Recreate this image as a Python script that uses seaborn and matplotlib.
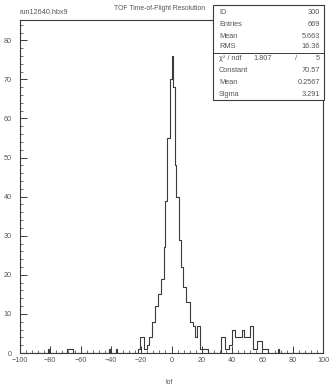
import numpy as np
import pandas as pd
import matplotlib
matplotlib.use("Agg")
import matplotlib.pyplot as plt
from matplotlib.patches import Rectangle
from matplotlib.lines import Line2D
from matplotlib.ticker import MultipleLocator
import seaborn as sns

# ---- data (variable-width bins) ----
bin_edges = [-100, -81.3, -80.7, -68.7, -65.3, -41.3, -40.7, -36.7, -36, -22,
             -20.7, -18, -16, -14.7, -12.7, -10.7, -8.7, -6.7, -4.7, -4,
             -2.7, -1.3, 0, 0.7, 2, 3.3, 4.7, 6, 7.3, 9.3,
             12, 14, 15.3, 16.7, 18.7, 20, 24, 33, 35.3, 38,
             40, 42, 46.7, 48, 52, 54, 56.4, 59.8, 64, 70,
             70.7, 100]
bin_counts = [0, 1, 0, 1, 0, 1, 0, 1, 0, 1,
              4, 1, 2, 4, 8, 12, 15, 19, 27, 39,
              55, 70, 76, 68, 48, 40, 29, 22, 17, 13,
              8, 7, 4, 7, 1, 1, 0, 4, 1, 2,
              6, 4, 6, 4, 7, 1, 3, 1, 0, 1,
              0]

stats_labels = ["ID", "Entries", "Mean", "RMS"]
stats_values = ["300", "669", "5.663", "16.36"]
fit_labels = ["Constant", "Mean", "Sigma"]
fit_values = ["70.57", "0.2567", "3.291"]
chi2_value = "1.807"
ndf_value = "5"

x_ticks = [-100, -80, -60, -40, -20, 0, 20, 40, 60, 80, 100]
y_ticks = [0, 10, 20, 30, 40, 50, 60, 70, 80]

edges = [float(e) for e in bin_edges]
centers = [(a + b) / 2 for a, b in zip(edges[:-1], edges[1:])]
df = pd.DataFrame({"tof": centers, "n": bin_counts})

sns.set_style("ticks")
plt.rcParams["font.family"] = ["Liberation Sans", "DejaVu Sans"]

W, H = 329, 387
fig = plt.figure(figsize=(W / 100, H / 100), dpi=100)
ax = fig.add_axes([20 / W, 1 - 353 / H, 303 / W, 333 / H])

line_c = "#3a3a3a"
text_c = "#555555"

sns.histplot(data=df, x="tof", weights="n", bins=edges, element="step",
             fill=False, color=line_c, linewidth=0.8, ax=ax)

ax.set_xlim(-100, 100)
ax.set_ylim(0, 85.2)
ax.set_xticks(x_ticks)
ax.set_xticklabels(["\u2212100", "\u221280", "\u221260", "\u221240", "\u221220", "0",
                    "20", "40", "60", "80", "100"])
ax.set_yticks(y_ticks)
ax.xaxis.set_minor_locator(MultipleLocator(4))
ax.yaxis.set_minor_locator(MultipleLocator(2))
ax.tick_params(axis="both", which="major", direction="in", length=5, width=0.7,
               labelsize=5.2, labelcolor=text_c, color=line_c)
ax.tick_params(axis="x", which="major", pad=3)
ax.tick_params(axis="y", which="major", pad=6)
ax.tick_params(axis="both", which="minor", direction="in", length=2.5, width=0.5,
               color=line_c)
for s in ax.spines.values():
    s.set_color(line_c)
    s.set_linewidth(0.8)
ax.set_xlabel("")
ax.set_ylabel("")

# texts
fig.text(20 / W, 1 - 12 / H, "run12640.hbx9", fontsize=5.2, color=text_c,
         ha="left", va="center")
fig.text(160 / W, 1 - 9 / H, "TOF Time-of-Flight Resolution", fontsize=4.9,
         color=text_c, ha="center", va="center")
fig.text(170 / W, 1 - 382 / H, "tof", fontsize=4.8, color=text_c,
         ha="center", va="center")

# stats box
bx0, bx1, by0, by1 = 213, 324, 5, 100
fig.patches.append(Rectangle((bx0 / W, 1 - by1 / H), (bx1 - bx0) / W, (by1 - by0) / H,
                             transform=fig.transFigure, facecolor="white",
                             edgecolor=line_c, linewidth=0.8, zorder=5))
fig.lines.append(Line2D([bx0 / W, bx1 / W], [1 - 53 / H, 1 - 53 / H],
                        transform=fig.transFigure, color=line_c, linewidth=0.7, zorder=6))
rows_y = [12, 24, 36, 47]
for lab, val, yy in zip(stats_labels, stats_values, rows_y):
    fig.text(219 / W, 1 - yy / H, lab, fontsize=5.3, color=text_c, ha="left",
             va="center", zorder=7)
    fig.text(320 / W, 1 - yy / H, val, fontsize=5.3, color=text_c, ha="right",
             va="center", zorder=7)
fig.text(219 / W, 1 - 59 / H, "\u03c7\u00b2 / ndf", fontsize=5.3, color=text_c,
         ha="left", va="center", zorder=7)
fig.text(272 / W, 1 - 59 / H, chi2_value, fontsize=5.3, color=text_c,
         ha="right", va="center", zorder=7)
fig.text(296 / W, 1 - 59 / H, "/", fontsize=5.3, color=text_c,
         ha="center", va="center", zorder=7)
fig.text(320 / W, 1 - 59 / H, ndf_value, fontsize=5.3, color=text_c,
         ha="right", va="center", zorder=7)
for lab, val, yy in zip(fit_labels, fit_values, [71, 83, 94]):
    fig.text(219 / W, 1 - yy / H, lab, fontsize=5.3, color=text_c, ha="left",
             va="center", zorder=7)
    fig.text(320 / W, 1 - yy / H, val, fontsize=5.3, color=text_c, ha="right",
             va="center", zorder=7)

fig.savefig("out.png", dpi=100)
